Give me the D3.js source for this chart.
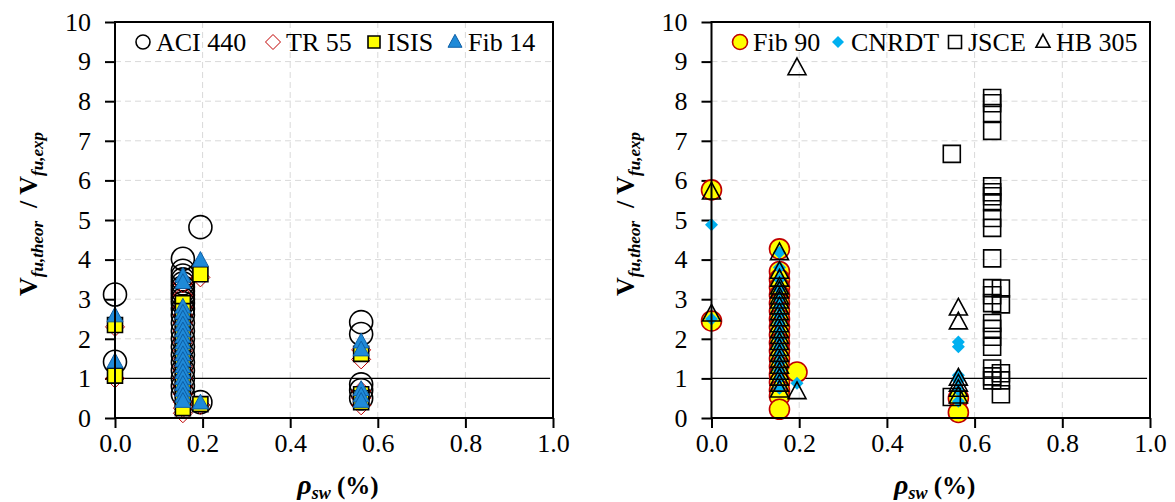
<!DOCTYPE html>
<html>
<head>
<meta charset="utf-8">
<script src="https://cdn.jsdelivr.net/npm/d3@7"></script>
<style>
  body { margin: 0; background: #fff; }
  svg, svg text { font-family: "Liberation Serif", "Times New Roman", Times, serif !important; }
</style>
</head>
<body>
<svg id="chart" width="1175" height="502"></svg>
<script>
// ratio V_fu,theor / V_fu,exp, grouped by rho_sw (%)
// left panel
let aci440 = [
    [0, [3.12, 1.42]],
    [0.155, [4.02, 3.72, 3.6, 3.5, 3.4, 3.3, 3.2, 3.1, 3.0, 2.9, 2.75, 2.6, 2.4, 2.2, 2.0, 1.8, 1.6, 1.4, 1.2, 1.0, 0.8, 0.6]],
    [0.195, [4.82, 0.4]],
    [0.562, [2.42, 2.12, 0.85, 0.7, 0.5]]
]
let tr55 = [
    [0, [2.3, 1.0]],
    [0.155, [3.4, 3.1, 2.8, 2.6, 2.4, 2.2, 2.0, 1.9, 1.7, 1.5, 1.3, 1.2, 1.0, 0.8, 0.6, 0.4, 0.25, 0.12]],
    [0.195, [3.55, 0.33]],
    [0.562, [1.72, 1.48, 0.68, 0.5, 0.32]]
]
let isis = [
    [0, [2.35, 1.07]],
    [0.155, [2.9, 2.7, 2.5, 2.3, 2.1, 1.9, 1.7, 1.5, 1.3, 1.1, 0.9, 0.7, 0.5, 0.25]],
    [0.195, [3.63, 0.35]],
    [0.562, [1.62, 0.6, 0.5, 0.4]]
]
let fib14 = [
    [0, [2.58, 1.42]],
    [0.155, [3.58, 3.42, 2.8, 2.65, 2.5, 2.35, 2.2, 2.05, 1.9, 1.75, 1.6, 1.45, 1.3, 1.15, 1.0, 0.85, 0.7, 0.55, 0.42]],
    [0.195, [3.98, 0.38]],
    [0.562, [1.92, 1.72, 0.72, 0.56, 0.42]]
]
// right panel
let fib90 = [
    [0, [5.76, 2.45]],
    [0.155, [4.27, 3.7, 3.5, 3.3, 3.1, 2.9, 2.7, 2.5, 2.3, 2.1, 1.9, 1.7, 1.5, 1.3, 1.1, 0.9, 0.7, 0.55, 0.22]],
    [0.195, [1.16]],
    [0.563, [0.5, 0.14]]
]
let cnrdt = [
    [0, [4.88, 2.5]],
    [0.155, [4.18, 3.8, 3.5, 3.25, 3.0, 2.8, 2.6, 2.4, 2.2, 2.0, 1.8, 1.6, 1.4, 1.2, 1.0, 0.75]],
    [0.195, [0.88]],
    [0.563, [1.92, 1.8, 1.08, 0.95, 0.7, 0.42]]
]
let jsce = [
    [0.548, [6.67, 0.53]],
    [0.64, [8.08, 7.95, 7.7, 7.25, 5.85, 5.7, 5.6, 5.45, 5.05, 4.8, 4.03, 3.28, 3.1, 2.9, 2.4, 2.25, 2.05, 1.8, 1.25, 1.05, 0.95]],
    [0.66, [3.27, 2.87, 1.13, 0.95, 0.6]]
]
let hb305 = [
    [0, [5.7, 2.62]],
    [0.155, [4.17, 3.7, 3.5, 3.3, 3.2, 3.05, 2.95, 2.8, 2.65, 2.5, 2.35, 2.2, 2.05, 1.9, 1.75, 1.6, 1.45, 1.3, 1.15, 1.0, 0.85, 0.7]],
    [0.195, [8.84, 0.66]],
    [0.563, [2.77, 2.42, 1.0, 0.85, 0.72, 0.55]]
]
let xTicks = [0, 0.2, 0.4, 0.6, 0.8, 1.0]
let yTicks = [0, 1, 2, 3, 4, 5, 6, 7, 8, 9, 10]

// marker shapes, path centred on 0,0
let shape = {
    circle: s => `M${s},0A${s},${s} 0 1,1 ${-s},0A${s},${s} 0 1,1 ${s},0Z`,
    diamond: s => `M0,${-s}L${s},0L0,${s}L${-s},0Z`,
    square: s => `M${-s},${-s}H${s}V${s}H${-s}Z`,
    triangle: s => `M0,${-s * 1.1}L${s},${s * 0.75}H${-s}Z`
}

let panels = [
    {
        x0: 115, x1: 553,
        series: [
            { name: "ACI 440", data: aci440, shape: "circle", size: 11.5, fill: "none", stroke: "#000", sw: 1.6, lx: 143, ls: 7 },
            { name: "TR 55", data: tr55, shape: "diamond", size: 9.5, fill: "none", stroke: "#c00000", sw: 1, lx: 273, ls: 7.5 },
            { name: "ISIS", data: isis, shape: "square", size: 7.5, fill: "#ffff00", stroke: "#000", sw: 1.6, lx: 374, ls: 6 },
            { name: "Fib 14", data: fib14, shape: "triangle", size: 8, fill: "#1f8ad8", stroke: "#0e5fa6", sw: 1, lx: 455, ls: 7 }
        ]
    },
    {
        x0: 711.5, x1: 1150,
        series: [
            { name: "Fib 90", data: fib90, shape: "circle", size: 10, fill: "#ffff00", stroke: "#c00000", sw: 1.6, lx: 740, ls: 7.5 },
            { name: "CNRDT", data: cnrdt, shape: "diamond", size: 6.5, fill: "#00b0f0", stroke: "none", sw: 0, lx: 838, ls: 6 },
            { name: "JSCE", data: jsce, shape: "square", size: 8.5, fill: "none", stroke: "#000", sw: 1.6, lx: 955, ls: 6.5 },
            { name: "HB 305", data: hb305, shape: "triangle", size: 9, fill: "none", stroke: "#000", sw: 1.6, lx: 1043, ls: 7 }
        ]
    }
]

let svg = d3.select("#chart")
let yTop = 22, yBot = 418
let serif = "'Liberation Serif', 'Times New Roman', Times, serif"

panels.forEach(p => {
    let x = d3.scaleLinear().domain([0, 1]).range([p.x0, p.x1])
    let y = d3.scaleLinear().domain([0, 10]).range([yBot, yTop])
    let g = svg.append("g")

    // dashed grid
    g.selectAll(".gy").data(yTicks.slice(1, -1)).enter().append("line")
        .attr("x1", p.x0).attr("x2", p.x1)
        .attr("y1", d => y(d)).attr("y2", d => y(d))
        .attr("stroke", "#d9d9d9").attr("stroke-width", 1).attr("stroke-dasharray", "6,4")
    g.selectAll(".gx").data(xTicks.slice(1, -1)).enter().append("line")
        .attr("x1", d => x(d)).attr("x2", d => x(d))
        .attr("y1", yTop).attr("y2", yBot)
        .attr("stroke", "#d9d9d9").attr("stroke-width", 1).attr("stroke-dasharray", "6,4")

    // line at ratio = 1
    g.append("line")
        .attr("x1", p.x0).attr("x2", p.x1 - 3)
        .attr("y1", y(1)).attr("y2", y(1))
        .attr("stroke", "#000").attr("stroke-width", 1.2)

    // axes
    let ax = g.append("g").attr("transform", `translate(0,${yBot})`)
        .call(d3.axisBottom(x).tickValues(xTicks).tickFormat(d3.format(".1f")).tickSize(10).tickPadding(6).tickSizeOuter(0))
    let ay = g.append("g").attr("transform", `translate(${p.x0},0)`)
        .call(d3.axisLeft(y).tickValues(yTicks).tickSize(10).tickPadding(14).tickSizeOuter(0))
    ;[ax, ay].forEach(a => {
        a.attr("font-family", null).attr("font-size", null)
        a.select(".domain").remove()
        a.selectAll("line").attr("stroke", "#000").attr("stroke-width", 2)
        a.selectAll("text").style("font-family", serif).style("font-size", "26px").attr("fill", "#000")
    })

    // markers
    p.series.forEach(s => {
        let pts = []
        s.data.forEach(([rho, vals]) => vals.forEach(v => pts.push({ rho: rho, v: v })))
        g.append("g").selectAll("path").data(pts).enter().append("path")
            .attr("d", shape[s.shape](s.size))
            .attr("transform", d => `translate(${x(d.rho)},${y(d.v)})`)
            .attr("fill", s.fill).attr("stroke", s.stroke).attr("stroke-width", s.sw)
        // legend entry
        g.append("path").attr("d", shape[s.shape](s.ls))
            .attr("transform", `translate(${s.lx},42)`)
            .attr("fill", s.fill).attr("stroke", s.stroke).attr("stroke-width", s.sw)
        g.append("text").attr("x", s.lx + 13).attr("y", 51)
            .style("font-family", serif).style("font-size", "26px").text(s.name)
    })

    // frame
    g.append("rect").attr("x", p.x0).attr("y", yTop)
        .attr("width", p.x1 - p.x0).attr("height", yBot - yTop)
        .attr("fill", "none").attr("stroke", "#000").attr("stroke-width", 2)

    // x title
    let xt = g.append("text").attr("x", (p.x0 + p.x1) / 2 + 4).attr("y", 494)
        .attr("text-anchor", "middle").attr("font-weight", "bold")
        .style("font-family", serif).style("font-size", "25px")
    xt.append("tspan").attr("font-style", "italic").style("font-size", "28px").text("ρ")
    xt.append("tspan").attr("font-style", "italic").style("font-size", "18px").attr("dy", 5).text("sw")
    xt.append("tspan").attr("dy", -5).text(" (%)")

    // y title
    let yt = g.append("text")
        .attr("transform", `translate(${p.x0 - 78},214) rotate(-90)`)
        .attr("text-anchor", "middle").attr("font-weight", "bold")
        .style("font-family", serif).style("font-size", "26px")
        .attr("xml:space", "preserve")
    yt.append("tspan").text("V")
    yt.append("tspan").attr("font-style", "italic").style("font-size", "17px").attr("dy", 6).text("fu,theor")
    yt.append("tspan").attr("dy", -6).text("  / V")
    yt.append("tspan").attr("font-style", "italic").style("font-size", "17px").attr("dy", 6).text("fu,exp")
})
</script>
</body>
</html>
